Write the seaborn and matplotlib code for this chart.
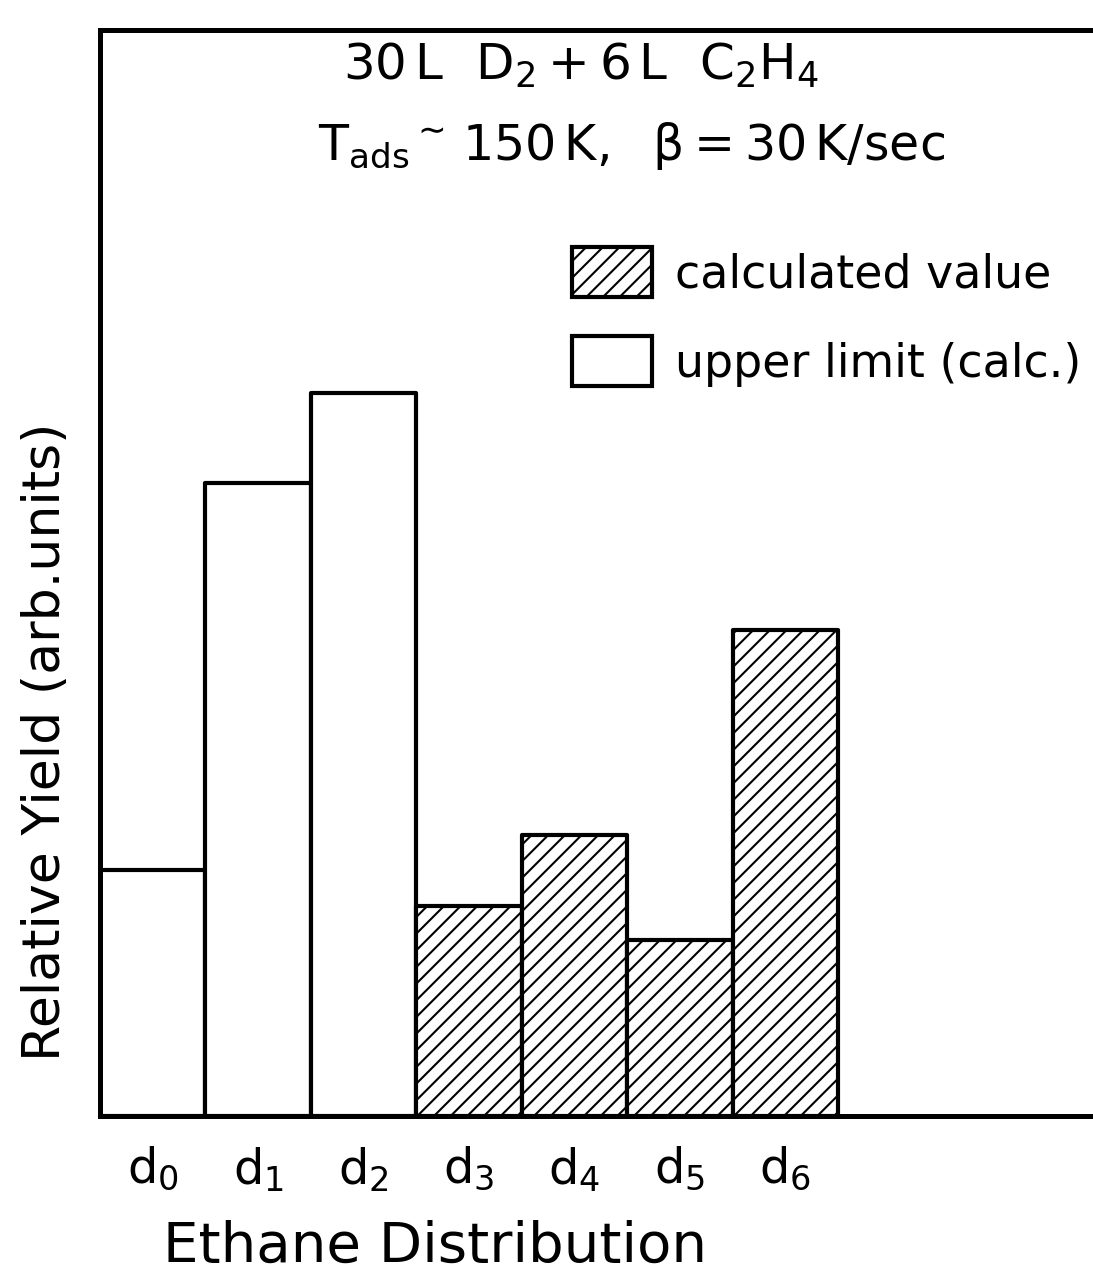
import matplotlib
matplotlib.use("Agg")
import matplotlib.pyplot as plt
from matplotlib.patches import Patch
import seaborn as sns
import pandas as pd

# Ethane isotopomer yields (arbitrary units)
species = [r"$\mathregular{d_0}$", r"$\mathregular{d_1}$", r"$\mathregular{d_2}$",
           r"$\mathregular{d_3}$", r"$\mathregular{d_4}$", r"$\mathregular{d_5}$",
           r"$\mathregular{d_6}$"]
yields = [24.6, 63.3, 72.3, 21.0, 28.1, 17.6, 48.6]
kinds = ["upper limit (calc.)"] * 3 + ["calculated value"] * 4
legend_order = ["calculated value", "upper limit (calc.)"]

sns.set_theme(style="white")
plt.rcParams["font.family"] = ["DejaVu Sans"]
plt.rcParams["mathtext.default"] = "regular"
plt.rcParams["hatch.linewidth"] = 1.0
plt.rcParams["text.color"] = "black"
plt.rcParams["axes.labelcolor"] = "black"

DPI = 150
W, H = 1093, 1284
fig = plt.figure(figsize=(W / DPI, H / DPI), dpi=DPI)
ax = fig.add_axes([100 / W, 168 / H, 993 / W, 1086 / H])

df = pd.DataFrame({"species": species, "yield": yields, "kind": kinds})
sns.barplot(data=df, x="species", y="yield", hue="kind", dodge=False,
            width=1.0, palette={k: "white" for k in legend_order},
            edgecolor="black", linewidth=2.0, errorbar=None, legend=False,
            saturation=1, ax=ax)

for p in ax.patches:
    i = int(round(p.get_x() + p.get_width() / 2))
    p.set_edgecolor("black")
    p.set_facecolor("white")
    p.set_joinstyle("round")
    if kinds[i] == "calculated value":
        p.set_hatch("///")

ax.set_xlim(-0.5, -0.5 + 993 / 105.43)
ax.set_ylim(0, 108.6)
ax.set_yticks([])
ax.tick_params(axis="x", length=0, pad=14, labelsize=23, colors="black")

for side in ("top", "left", "bottom"):
    ax.spines[side].set_visible(True)
    ax.spines[side].set_linewidth(2.4)
    ax.spines[side].set_color("black")
ax.spines["right"].set_visible(False)

ax.set_xlabel("Ethane Distribution", fontsize=27, color="black")
ax.xaxis.set_label_coords((435 - 100) / 993, (1116 - 1262) / 1086)
ax.xaxis.label.set_va("baseline")

ax.set_ylabel("Relative Yield (arb.units)", fontsize=25, color="black")
ax.yaxis.set_label_coords((60 - 100) / 993, 0.345)
ax.yaxis.label.set_va("baseline")

fig.text(581 / W, 1 - 80 / H, r"$\mathregular{30\,L\ \ D_2 + 6\,L\ \ C_2H_4}$",
         ha="center", va="baseline", fontsize=24, color="black")
fig.text(631 / W, 1 - 160 / H,
         r"$\mathregular{T_{ads}}^{\sim}\mathregular{\,150\,K,\ \ \beta = 30\,K/sec}$",
         ha="center", va="baseline", fontsize=23.5, color="black")

handles = [Patch(facecolor="white", edgecolor="black", hatch="///", lw=2.0),
           Patch(facecolor="white", edgecolor="black", lw=2.0)]
fig.legend(handles, legend_order, loc="upper left",
           bbox_to_anchor=(572 / W, 1 - 247 / H), frameon=False, fontsize=22,
           handlelength=1.75, handleheight=1.3, handletextpad=0.5,
           labelspacing=0.85, borderpad=0, borderaxespad=0,
           labelcolor="black")

fig.savefig("out.png", dpi=DPI, facecolor="white")
